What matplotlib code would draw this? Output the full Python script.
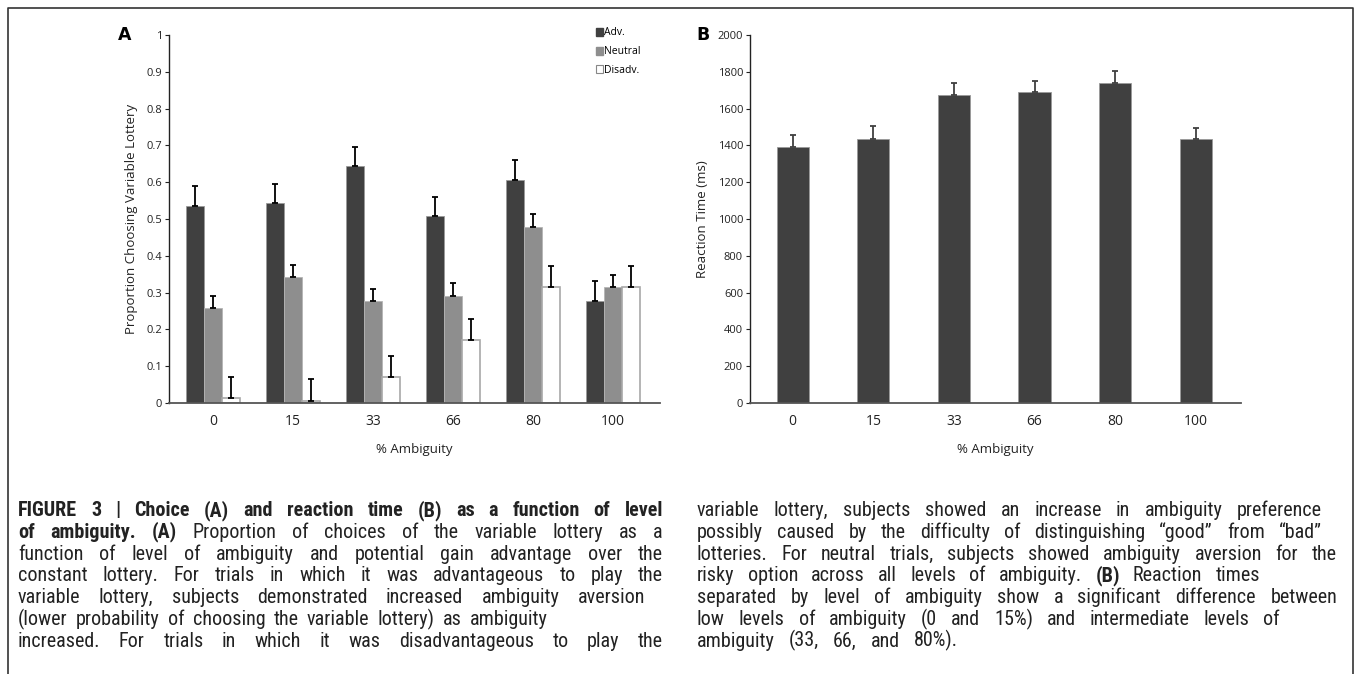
import numpy as np
import matplotlib
matplotlib.use("Agg")
import matplotlib.pyplot as plt
from matplotlib import font_manager
from matplotlib.lines import Line2D
from matplotlib.patches import Patch

W, H = 1355, 674

ambiguity = ["0", "15", "33", "66", "80", "100"]
adv = [0.535, 0.544, 0.644, 0.507, 0.607, 0.278]
adv_err = [0.055, 0.052, 0.053, 0.054, 0.054, 0.053]
neutral = [0.257, 0.343, 0.278, 0.292, 0.479, 0.314]
neutral_err = [0.033, 0.032, 0.033, 0.033, 0.034, 0.033]
disadv = [0.013, 0.006, 0.071, 0.172, 0.315, 0.315]
disadv_err = [0.057, 0.058, 0.057, 0.057, 0.057, 0.057]
rt = [1394, 1437, 1673, 1688, 1740, 1434]
rt_err = [62, 67, 67, 63, 64, 60]


def pick(*names):
    for n in names:
        try:
            font_manager.findfont(n, fallback_to_default=False)
            return n
        except Exception:
            pass
    return "DejaVu Sans"


CHART_FONT = pick("Open Sans", "Lato", "DejaVu Sans")
CAP_FONT = pick("Liberation Sans Narrow", "Roboto Condensed", "Liberation Sans")
plt.rcParams["font.family"] = CHART_FONT

DARK, MID = "#404040", "#8e8e8e"

fig = plt.figure(figsize=(W / 100, H / 100), dpi=100)


def px_axes(l, t, r, b):
    return fig.add_axes([l / W, 1 - b / H, (r - l) / W, (b - t) / H])


def style(ax):
    for s in ("top", "right"):
        ax.spines[s].set_visible(False)
    ax.spines["left"].set_color("#222222")
    ax.spines["bottom"].set_color("#555555")
    ax.spines["left"].set_linewidth(1.0)
    ax.spines["bottom"].set_linewidth(1.3)
    ax.tick_params(axis="y", direction="out", length=3, width=0.8,
                   labelsize=8, colors="#222222", pad=2)
    ax.tick_params(axis="x", length=0, labelsize=10, pad=8, colors="#222222")
    ax.set_xlabel("% Ambiguity", fontsize=9.5, labelpad=10, color="#222222")


# ---- panel A
axA = px_axes(169, 35, 660, 403)
x = np.arange(len(ambiguity))
bw = 0.225
ekw = dict(ecolor="black", elinewidth=1.3, capsize=2, capthick=1.3)
axA.bar(x - bw, adv, bw, color=DARK, edgecolor="#9a9a9a", lw=0.6, label="Adv.")
axA.bar(x, neutral, bw, color=MID, edgecolor="#b5b5b5", lw=0.6, label="Neutral")
axA.bar(x + bw, disadv, bw, color="white", edgecolor="#a8a8a8", lw=1.2,
        label="Disadv.")
axA.errorbar(x - bw, adv, yerr=[np.zeros(6), adv_err], fmt="none", **ekw)
axA.errorbar(x, neutral, yerr=[np.zeros(6), neutral_err], fmt="none", **ekw)
axA.errorbar(x + bw, disadv, yerr=[np.zeros(6), disadv_err], fmt="none", **ekw)
axA.set_xlim(-0.55, 5.59)
axA.set_ylim(0, 1)
axA.set_yticks(np.arange(0, 1.01, 0.1))
axA.set_yticklabels(["0"] + [f"{v:.1f}" for v in np.arange(0.1, 0.95, 0.1)] + ["1"])
axA.set_xticks(x)
axA.set_xticklabels(ambiguity)
axA.set_ylabel("Proportion Choosing Variable Lottery", fontsize=9.5,
               labelpad=6, color="#222222")
style(axA)
hs = [Patch(fc=DARK, ec=DARK), Patch(fc=MID, ec=MID),
      Patch(fc="white", ec="#888888", lw=0.8)]
axA.legend(hs, ["Adv.", "Neutral", "Disadv."], loc="upper left",
           bbox_to_anchor=(0.86, 1.035), frameon=False, fontsize=7.5,
           handlelength=0.6, handleheight=0.8, handletextpad=0.15,
           labelspacing=0.75, borderpad=0)
fig.text(125 / W, 1 - 35 / H, "A", fontsize=12.5, fontweight="bold",
         ha="center", va="center", family="DejaVu Sans")

# ---- panel B
axB = px_axes(750, 35, 1241, 403)
axB.bar(x, rt, 0.4, color=DARK, edgecolor="#9a9a9a", lw=0.6)
axB.errorbar(x, rt, yerr=[np.zeros(6), rt_err], fmt="none", ecolor="#404040",
             elinewidth=1.3, capsize=2, capthick=1.3)
axB.set_xlim(-0.53, 5.56)
axB.set_ylim(0, 2000)
axB.set_yticks(np.arange(0, 2001, 200))
axB.set_xticks(x)
axB.set_xticklabels(ambiguity)
axB.set_ylabel("Reaction Time (ms)", fontsize=9.5, labelpad=6, color="#222222")
style(axB)
fig.text(703 / W, 1 - 35 / H, "B", fontsize=12.5, fontweight="bold",
         ha="center", va="center", family="DejaVu Sans")

# ---- frame (open at the bottom)
fx = [8 / W, 8 / W, 1353 / W, 1353 / W]
fy = [0, 1 - 8 / H, 1 - 8 / H, 0]
fig.add_artist(Line2D(fx, fy, color="#333333", lw=1.2, transform=fig.transFigure))

# ---- caption, two justified columns
B_ = "bold"
N_ = "normal"
left_lines = [
    ([("FIGURE 3 | Choice (A) and reaction time (B) as a function of level", B_)], 663),
    ([("of ambiguity. (A)", B_), ("Proportion of choices of the variable lottery as a", N_)], 663),
    ([("function of level of ambiguity and potential gain advantage over the", N_)], 663),
    ([("constant lottery. For trials in which it was advantageous to play the", N_)], 663),
    ([("variable lottery, subjects demonstrated increased ambiguity aversion", N_)], 645),
    ([("(lower probability of choosing the variable lottery) as ambiguity", N_)], 548),
    ([("increased. For trials in which it was disadvantageous to play the", N_)], 663),
]
right_lines = [
    ([("variable lottery, subjects showed an increase in ambiguity preference", N_)], 1322),
    ([("possibly caused by the difficulty of distinguishing \u201cgood\u201d from \u201cbad\u201d", N_)], 1322),
    ([("lotteries. For neutral trials, subjects showed ambiguity aversion for the", N_)], 1337),
    ([("risky option across all levels of ambiguity.", N_), ("(B)", B_),
      ("Reaction times", N_)], 1260),
    ([("separated by level of ambiguity show a significant difference between", N_)], 1337),
    ([("low levels of ambiguity (0 and 15%) and intermediate levels of", N_)], 1280),
    ([("ambiguity (33, 66, and 80%).", N_)], 958),
]
rend = fig.canvas.get_renderer()

# caption size: the short last line is set without stretching, so fit
# its words plus four ~0.3em spaces into its width in the figure
probe = fig.text(0, 0, "ambiguity(33,66,and80%).", fontsize=10, family=CAP_FONT)
pw = probe.get_window_extent(rend).width
probe.remove()
CAP_SIZE = min(14.5, (958 - 697) / (pw / 10 + 4 * 0.3 * 100 / 72))


def put_line(parts, x0, x1, y):
    words = [(w, wt) for s, wt in parts for w in s.split(" ")]
    arts = []
    for w, wt in words:
        t = fig.text(0, 1 - y / H, w, fontsize=CAP_SIZE, fontweight=wt,
                     family=CAP_FONT, va="baseline", ha="left", color="#222222")
        arts.append((t, t.get_window_extent(rend).width))
    total = sum(wd for _, wd in arts)
    gap = (x1 - x0 - total) / (len(arts) - 1)
    xx = x0
    for t, wd in arts:
        t.set_x(xx / W)
        xx += wd + gap


for i, (parts, end) in enumerate(left_lines):
    put_line(parts, 18, end, 516 + i * 21.8)
for i, (parts, end) in enumerate(right_lines):
    put_line(parts, 697, end, 516 + i * 21.8)

fig.savefig("out.png", dpi=100)
